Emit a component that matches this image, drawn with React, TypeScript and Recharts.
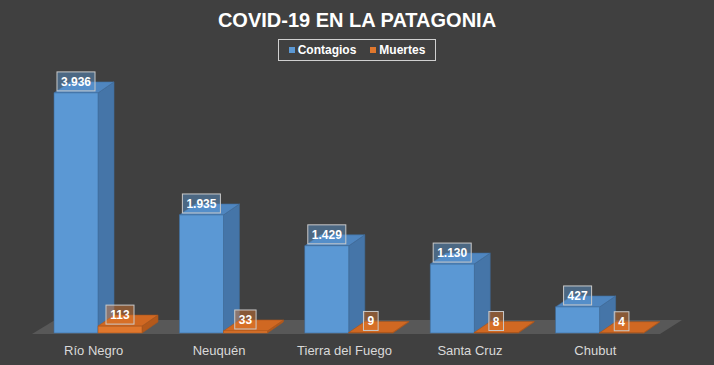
import React from "react";
import { BarChart, Bar, XAxis, YAxis, LabelList, ReferenceArea } from "recharts";

const categories = ["Río Negro", "Neuquén", "Tierra del Fuego", "Santa Cruz", "Chubut"];
const contagios = [3936, 1935, 1429, 1130, 427];
const muertes = [113, 33, 9, 8, 4];
const seriesNames = ["Contagios", "Muertes"];

const data = categories.map((c, i) => ({ name: c, contagios: contagios[i], muertes: muertes[i] }));

const FONT = "'Liberation Sans', Arial, sans-serif";
const W = 714;
const H = 365;
const DX = 16;
const DY = 11;

const BLUE = { front: "#5b98d4", top: "#4f86c0", side: "#4575a8", edge: "#3f6c9a", label: "rgba(91,152,212,0.45)" };
const ORANGE = { front: "#e0772d", top: "#d06822", side: "#b4591b", edge: "#a9551c", label: "rgba(224,119,45,0.45)" };

const fmt = (v: number) => String(v).replace(/\B(?=(\d{3})+(?!\d))/g, ".");

const make3D = (c: typeof BLUE) => (props: any) => {
  const { x, y, width: w, height: h } = props;
  if (x == null || y == null) return null;
  const hh = Math.max(h, 0);
  return (
    <g>
      <polygon
        points={`${x + w},${y} ${x + w + DX},${y - DY} ${x + w + DX},${y + hh - DY} ${x + w},${y + hh}`}
        fill={c.side}
        stroke={c.edge}
        strokeWidth={0.6}
      />
      <polygon
        points={`${x},${y} ${x + w},${y} ${x + w + DX},${y - DY} ${x + DX},${y - DY}`}
        fill={c.top}
        stroke={c.edge}
        strokeWidth={0.6}
      />
      <rect x={x} y={y} width={w} height={hh} fill={c.front} stroke={c.edge} strokeWidth={0.6} />
    </g>
  );
};

const makeLabel = (c: typeof BLUE) => (props: any) => {
  const { x, y, width: w, value } = props;
  const txt = fmt(Number(value));
  let tw = 0;
  for (const ch of txt) tw += ch === "." ? 3.34 : 6.67;
  const bw = tw + 8;
  const bh = 19;
  const cx = x + w / 2;
  const bottom = y - 2;
  return (
    <g>
      <rect x={cx - bw / 2} y={bottom - bh} width={bw} height={bh} fill={c.label} stroke="#c9c9c9" strokeWidth={1} />
      <text x={cx} y={bottom - 5} textAnchor="middle" fill="#ffffff" fontSize={12} fontWeight="bold" fontFamily={FONT}>
        {txt}
      </text>
    </g>
  );
};

const Floor = (props: any) => {
  const { x, y, width: w } = props;
  const fx = 20;
  const fy = 14;
  const base = y + 1;
  return (
    <polygon
      points={`${x - 3},${base} ${x + w - 2},${base} ${x + w + fx},${base - fy} ${x + fx},${base - fy}`}
      fill="#585858"
    />
  );
};

const Tick = (props: any) => {
  const { x, y, payload } = props;
  return (
    <text x={x - 4} y={y + 14} textAnchor="middle" fill="#d9d9d9" fontSize={13} fontFamily={FONT}>
      {payload.value}
    </text>
  );
};

export default function App() {
  return (
    <div style={{ position: "absolute", left: 0, top: 0, width: W, height: H, background: "#404040", fontFamily: FONT }}>
      <div
        style={{
          position: "absolute",
          left: 0,
          top: 8,
          width: W,
          textAlign: "center",
          color: "#ffffff",
          fontSize: 20,
          fontWeight: "bold",
          lineHeight: "24px",
        }}
      >
        COVID-19 EN LA PATAGONIA
      </div>
      <div
        style={{
          position: "absolute",
          left: 278,
          top: 39,
          width: 156,
          height: 20,
          border: "1px solid #d0d0d0",
          display: "flex",
          alignItems: "center",
          justifyContent: "center",
          gap: 14,
          color: "#ffffff",
          fontSize: 12,
          fontWeight: "bold",
        }}
      >
        {seriesNames.map((n, i) => (
          <span key={n} style={{ display: "flex", alignItems: "center" }}>
            <span
              style={{
                display: "inline-block",
                width: 6,
                height: 6,
                background: i === 0 ? BLUE.front : ORANGE.front,
                marginRight: 3,
              }}
            />
            {n}
          </span>
        ))}
      </div>
      <div style={{ position: "absolute", left: 0, top: 0 }}>
        <BarChart
          width={W}
          height={H}
          data={data}
          margin={{ top: 89, right: 52, left: 35, bottom: 7 }}
          barGap={0}
          barSize={44}
        >
          <XAxis dataKey="name" height={25} axisLine={false} tickLine={false} tick={<Tick />} interval={0} />
          <YAxis hide domain={[0, 4000]} />
          <ReferenceArea
            x1={categories[0]}
            x2={categories[categories.length - 1]}
            y1={0}
            y2={0}
            ifOverflow="visible"
            shape={<Floor />}
          />
          <Bar dataKey="contagios" name={seriesNames[0]} isAnimationActive={false} shape={make3D(BLUE)}>
            <LabelList dataKey="contagios" content={makeLabel(BLUE)} />
          </Bar>
          <Bar dataKey="muertes" name={seriesNames[1]} isAnimationActive={false} shape={make3D(ORANGE)}>
            <LabelList dataKey="muertes" content={makeLabel(ORANGE)} />
          </Bar>
        </BarChart>
      </div>
    </div>
  );
}
